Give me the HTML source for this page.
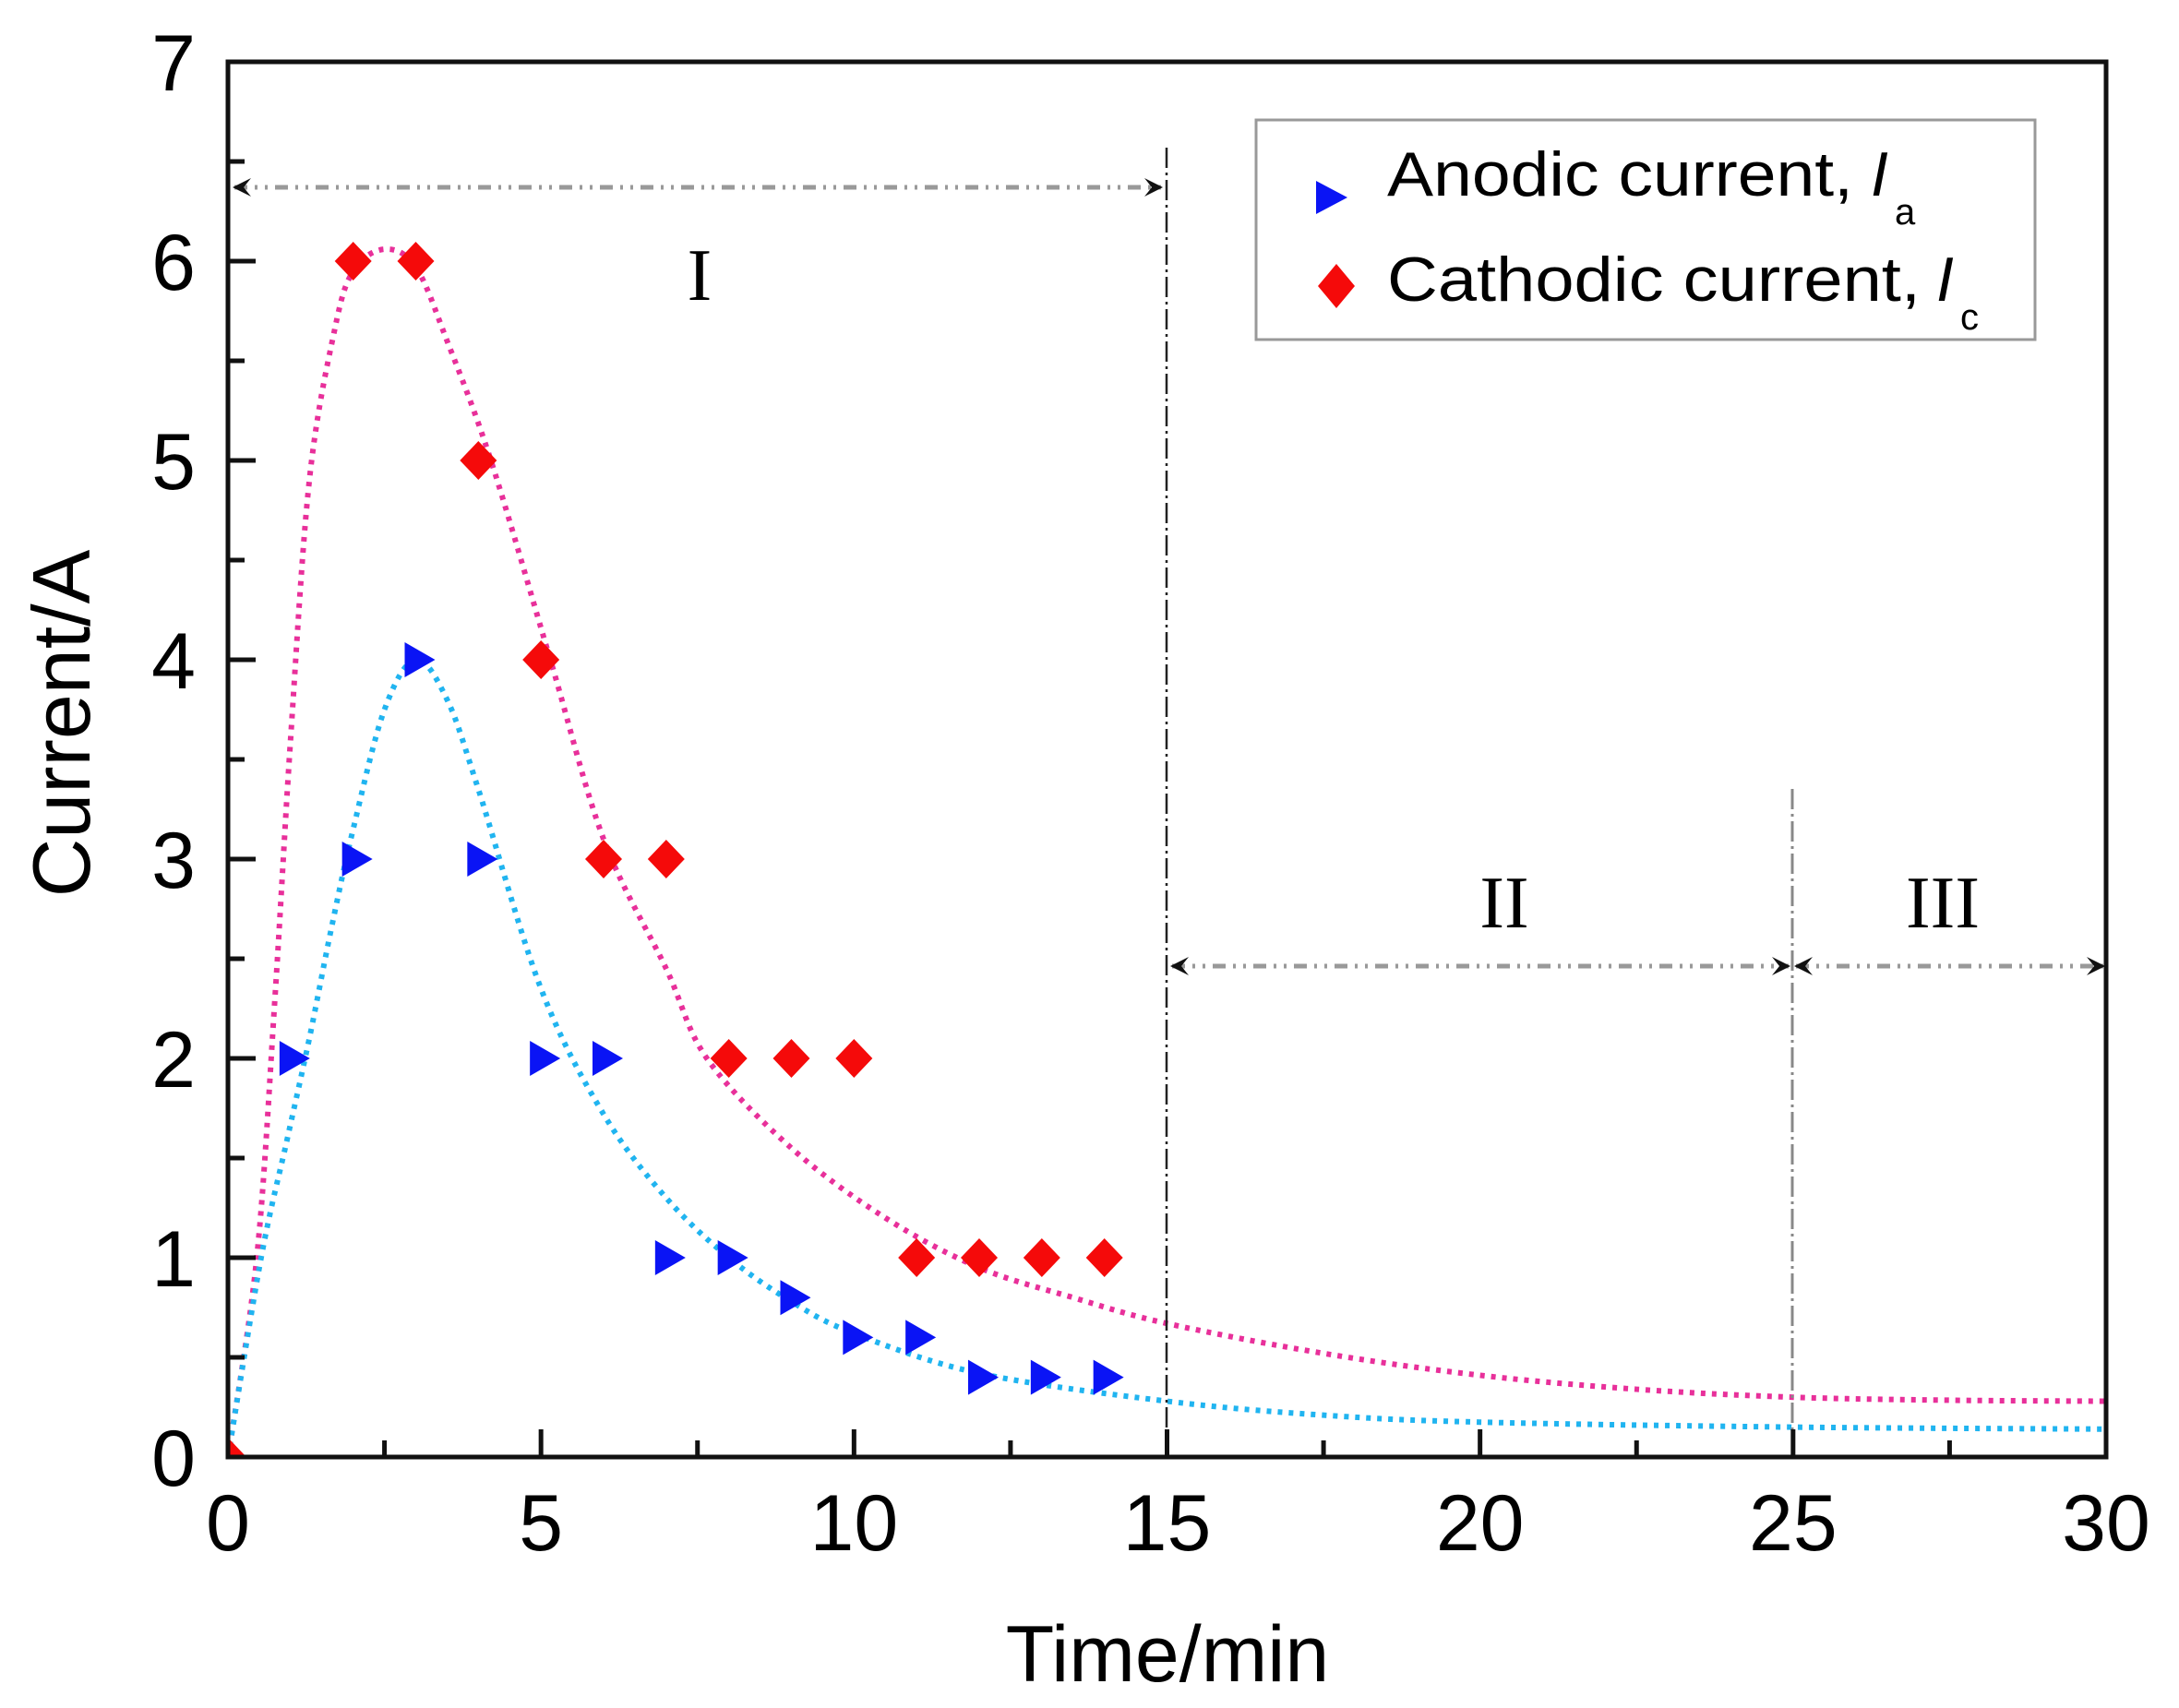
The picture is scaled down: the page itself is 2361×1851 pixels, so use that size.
<!DOCTYPE html>
<html><head><meta charset="utf-8"><style>
html,body{margin:0;padding:0;background:#fff}
svg{display:block}
text{font-family:"Liberation Sans",Arial,sans-serif;fill:#000}
.s{font-family:"Liberation Serif",serif}
</style></head><body>
<svg id="c" width="2361" height="1851" viewBox="0 0 2361 1851" xmlns="http://www.w3.org/2000/svg">
<rect width="2361" height="1851" fill="#fff"/>
<defs>
<clipPath id="pc"><rect x="247" y="67" width="2035" height="1512"/></clipPath>
<marker id="al" viewBox="0 0 20 20" refX="2" refY="10" markerWidth="20" markerHeight="20" markerUnits="userSpaceOnUse" orient="auto"><path d="M0,10 L20,0 L12,10 L20,20 Z" fill="#111"/></marker>
<marker id="ar" viewBox="0 0 20 20" refX="18" refY="10" markerWidth="20" markerHeight="20" markerUnits="userSpaceOnUse" orient="auto"><path d="M20,10 L0,0 L8,10 L0,20 Z" fill="#111"/></marker>
</defs>
<g id="curves" clip-path="url(#pc)"></g>
<line x1="1264" y1="160" x2="1264" y2="1579" stroke="#222" stroke-width="2.5" stroke-dasharray="22 5 3 5"/>
<line x1="1942" y1="855" x2="1942" y2="1579" stroke="#888" stroke-width="3" stroke-dasharray="22 5 3 5"/>
<line x1="254" y1="203" x2="1258" y2="203" stroke="#999" stroke-width="5" stroke-dasharray="14 8 3 8 3 8" marker-start="url(#al)" marker-end="url(#ar)"/>
<line x1="1270" y1="1047" x2="1938" y2="1047" stroke="#999" stroke-width="5" stroke-dasharray="14 8 3 8 3 8" marker-start="url(#al)" marker-end="url(#ar)"/>
<line x1="1946" y1="1047" x2="2279" y2="1047" stroke="#999" stroke-width="5" stroke-dasharray="14 8 3 8 3 8" marker-start="url(#al)" marker-end="url(#ar)"/>
<text class="s" x="758" y="325" font-size="80" text-anchor="middle">I</text>
<text class="s" x="1630" y="1005" font-size="80" text-anchor="middle">II</text>
<text class="s" x="2105" y="1005" font-size="80" text-anchor="middle">III</text>
<g id="marks" clip-path="url(#pc)"></g>
<rect x="247" y="67" width="2035" height="1512" fill="none" stroke="#111" stroke-width="5"/>
<g id="ticks" stroke="#111" stroke-width="5"></g>
<g id="labels" font-size="86"></g>
<text x="1265" y="1822" font-size="86" text-anchor="middle">Time/min</text>
<text transform="translate(97,784) rotate(-90)" font-size="88" text-anchor="middle">Current/A</text>
<rect x="1361" y="130" width="844" height="238" fill="#fff" stroke="#999" stroke-width="3"/>
<path d="M1426,196 L1460,214 L1426,232 Z" fill="#0a14f5"/>
<path d="M1448,286 L1468,310 L1448,334 L1428,310 Z" fill="#f50a0a"/>
<text x="1503" y="212" font-size="68" textLength="505" lengthAdjust="spacingAndGlyphs">Anodic current,</text>
<text x="2027" y="212" font-size="68" font-style="italic">I</text>
<text x="2053" y="243" font-size="40">a</text>
<text x="1503" y="326" font-size="68" textLength="578" lengthAdjust="spacingAndGlyphs">Cathodic current,</text>
<text x="2098" y="326" font-size="68" font-style="italic">I</text>
<text x="2124" y="357" font-size="40">c</text>
</svg>
<script>
var X=function(v){return 247+v*2035/30},Y=function(v){return 1579-v*216};
var NS="http://www.w3.org/2000/svg";
function el(t,a,p){var e=document.createElementNS(NS,t);for(var k in a)e.setAttribute(k,a[k]);document.getElementById(p).appendChild(e);return e;}
function cr(pts){var P=pts.map(function(p){return [X(p[0]),Y(p[1])]});var d="M"+P[0][0]+","+P[0][1];
for(var i=0;i<P.length-1;i++){var p0=P[Math.max(i-1,0)],p1=P[i],p2=P[i+1],p3=P[Math.min(i+2,P.length-1)];
var c1=[p1[0]+(p2[0]-p0[0])/6,p1[1]+(p2[1]-p0[1])/6],c2=[p2[0]-(p3[0]-p1[0])/6,p2[1]-(p3[1]-p1[1])/6];
d+=" C"+c1[0]+","+c1[1]+" "+c2[0]+","+c2[1]+" "+p2[0]+","+p2[1];}return d;}
var cath=[[0,0],[0.46,1],[0.75,2.3],[1.0,3.6],[1.3,4.9],[1.7,5.65],[2.0,5.95],[2.5,6.06],[3,5.97],[3.5,5.6],[4.2,5.0],[5.15,4.0],[6,3.1],[7,2.45],[7.65,2.0],[9,1.55],[10.5,1.2],[12,0.95],[13.5,0.8],[15,0.67],[17.5,0.52],[20,0.41],[22.5,0.34],[25,0.3],[27.5,0.285],[30,0.28]];
var anod=[[0,0],[0.53,1],[0.95,1.6],[1.3,2.1],[1.65,2.65],[2,3.15],[2.5,3.75],[3,4.0],[3.5,3.8],[4,3.35],[5,2.35],[6,1.72],[7,1.3],[8,1.0],[9,0.78],[10,0.62],[12,0.42],[15,0.28],[17.5,0.21],[20,0.175],[25,0.15],[30,0.14]];
el("path",{d:cr(cath),fill:"none",stroke:"#e8309a","stroke-width":6,"stroke-dasharray":"5 7"},"curves");
el("path",{d:cr(anod),fill:"none",stroke:"#20b4f0","stroke-width":6,"stroke-dasharray":"5 7"},"curves");
var A=[[1,2],[2,3],[3,4],[4,3],[5,2],[6,2],[7,1],[8,1],[9,0.8],[10,0.6],[11,0.6],[12,0.4],[13,0.4],[14,0.4]];
var C=[[0,0],[2,6],[3,6],[4,5],[5,4],[6,3],[7,3],[8,2],[9,2],[10,2],[11,1],[12,1],[13,1],[14,1]];
A.forEach(function(p){var x=X(p[0])+2,y=Y(p[1]);el("path",{d:"M"+(x-14)+","+(y-19)+" L"+(x+19)+","+y+" L"+(x-14)+","+(y+19)+" Z",fill:"#0a14f5"},"marks");});
C.forEach(function(p){var x=X(p[0]),y=Y(p[1]);el("path",{d:"M"+x+","+(y-21)+" L"+(x+20)+","+y+" L"+x+","+(y+21)+" L"+(x-20)+","+y+" Z",fill:"#f50a0a"},"marks");});
for(var i=0;i<=12;i++){var v=i*2.5,x=X(v),L=(i%2==0)?30:18;if(i>0&&i<12)el("line",{x1:x,y1:1579,x2:x,y2:1579-L},"ticks");}
for(var i=0;i<=14;i++){var v=i*0.5,y=Y(v),L=(i%2==0)?30:18;if(i>0&&i<14)el("line",{x1:247,y1:y,x2:247+L,y2:y},"ticks");}
for(var i=0;i<=6;i++){var t=el("text",{x:X(i*5),y:1680,"text-anchor":"middle"},"labels");t.textContent=i*5;}
for(var i=0;i<=7;i++){var t=el("text",{x:212,y:Y(i)+31,"text-anchor":"end"},"labels");t.textContent=i;}
</script>
</body></html>
